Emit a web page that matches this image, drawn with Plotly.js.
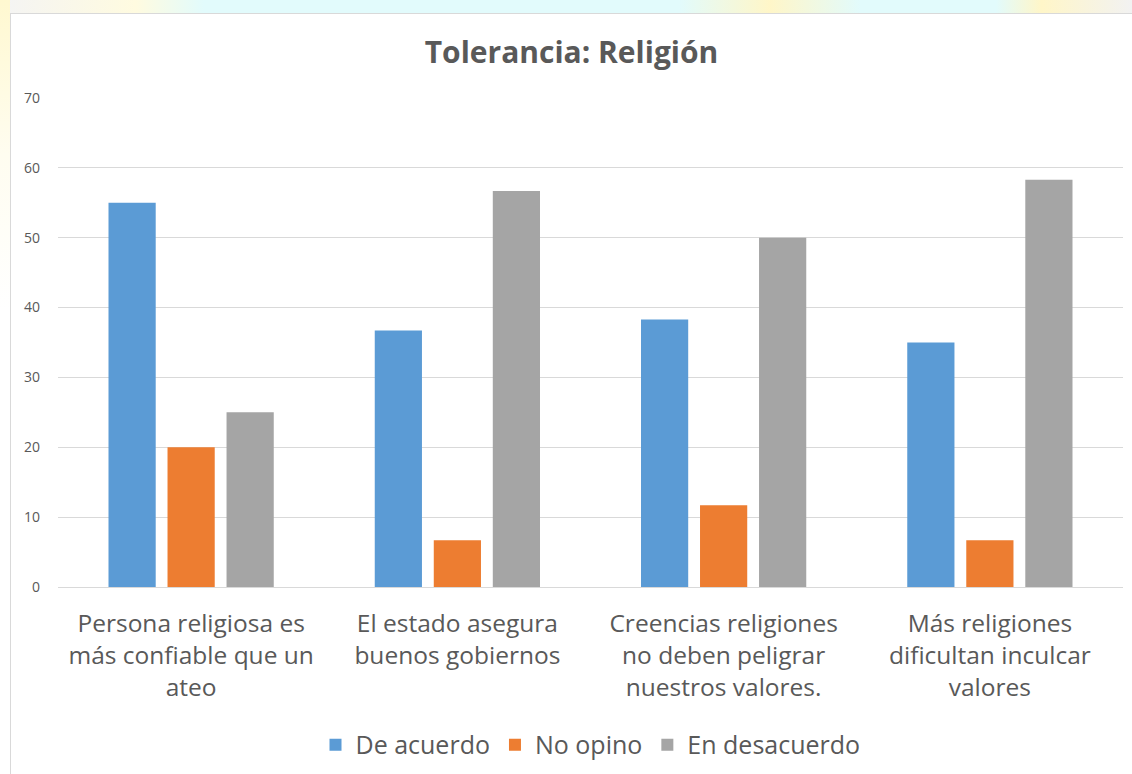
<!DOCTYPE html>
<html><head><meta charset="utf-8">
<script src="https://cdn.plot.ly/plotly-3.0.1.min.js"></script>
<style>
html,body{margin:0;padding:0;background:#fff;width:1132px;height:774px;overflow:hidden;}
#strip{position:absolute;left:0;top:0;width:1132px;height:13px;background:linear-gradient(90deg,#f4f4f4 0%,#fffbe0 12%,#e2fbfc 18%,#e2fbfc 60%,#fff6c8 68%,#e2fbfc 76%,#e2fbfc 88%,#fff6c8 92%,#f2f2f2 100%);}
#lstrip{position:absolute;left:0;top:0;width:10px;height:774px;background:linear-gradient(180deg,#fff8d0 0%,#fffdf0 20%,#ffffff 40%);}
#chart{position:absolute;left:10px;top:13px;width:1121px;height:760px;border-left:1px solid #d9d9d9;border-top:1px solid #d9d9d9;background:#fff;}
</style></head>
<body>
<div id="strip"></div><div id="lstrip"></div>
<div id="chart"></div>
<script>
const categories = [
  "Persona religiosa es<br>más confiable que un<br>ateo",
  "El estado asegura<br>buenos gobiernos<br> ",
  "Creencias religiones<br>no deben peligrar<br>nuestros valores.",
  "Más religiones<br>dificultan inculcar<br>valores"
];
const deAcuerdo = [55, 36.7, 38.3, 35];
const noOpino = [20, 6.7, 11.7, 6.7];
const enDesacuerdo = [25, 56.7, 50, 58.3];
const seriesNames = ["De acuerdo", "No opino", "En desacuerdo"];
const colors = ["#5b9bd5", "#ed7d31", "#a5a5a5"];
const tickVals = [0, 10, 20, 30, 40, 50, 60, 70];

const font = "Open Sans, Noto Sans, sans-serif";
const data = [deAcuerdo, noOpino, enDesacuerdo].map((v, i) => ({
  type: "bar", x: categories, y: v, name: seriesNames[i],
  marker: {color: colors[i]}, hoverinfo: "none"
}));

const layout = {
  width: 1121, height: 760,
  margin: {l: 47, r: 9, t: 84, b: 187, autoexpand: false},
  paper_bgcolor: "#fff", plot_bgcolor: "#fff",
  barmode: "group", bargap: 0.335, bargroupgap: 0.2,
  title: {text: "<b>Tolerancia: Religión</b>", font: {family: font, size: 30, color: "#595959"},
          x: 0.5, xref: "container", xanchor: "center", y: 0.949, yref: "container", yanchor: "middle"},
  xaxis: {type: "category", automargin: false, tickfont: {family: font, size: 24.5, color: "#595959"},
          showline: true, linecolor: "#d9d9d9", linewidth: 1, ticks: "", ticklabelstandoff: 15},
  yaxis: {range: [0, 70], automargin: false, tickvals: tickVals, ticktext: tickVals.map(String),
          tickfont: {family: font, size: 14, color: "#595959"},
          gridcolor: "#d9d9d9", gridwidth: 1, zeroline: false, showline: false,
          ticks: "", ticklabelstandoff: 17},
  showlegend: true,
  legend: {orientation: "h", x: 0.5, xanchor: "center", y: -0.323, yanchor: "middle",
           font: {family: font, size: 25, color: "#595959"}, itemwidth: 30, traceorder: "normal"}
};
Plotly.newPlot("chart", data, layout, {staticPlot: true, displayModeBar: false});
</script>
</body></html>
